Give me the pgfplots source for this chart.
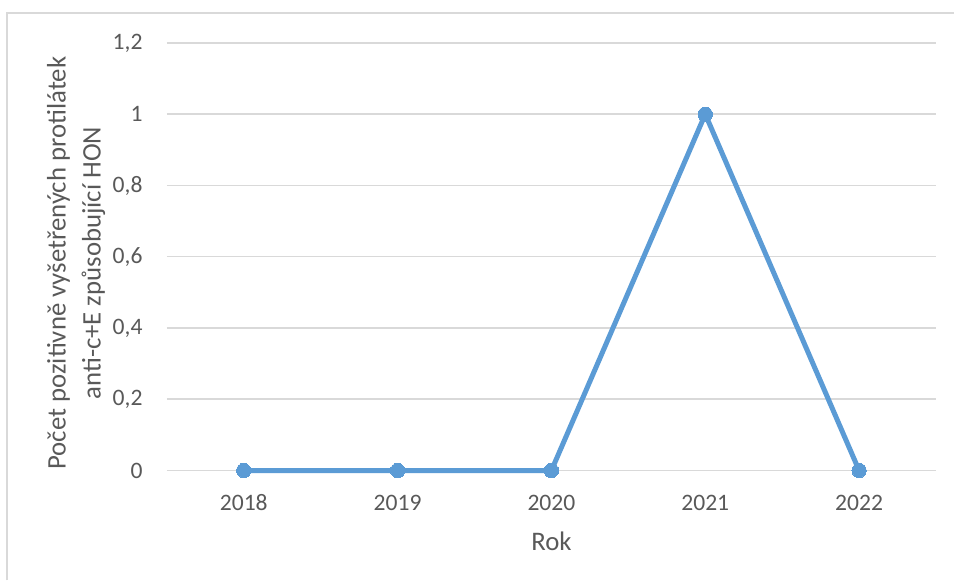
\documentclass[border=0pt]{standalone}
\usepackage{pgfplots}
\pgfplotsset{compat=1.18}
\usepackage{fontspec}
\setmainfont{Carlito}
\definecolor{linecol}{HTML}{5B9BD5}
\definecolor{gridcol}{HTML}{D9D9D9}
\definecolor{textcol}{HTML}{595959}
\begin{document}
\begin{tikzpicture}
\path (0,0) rectangle (477.5pt,290.5pt);
\draw[gridcol, line width=1pt] (3.5pt,0) -- (3.5pt,284pt) -- (477.5pt,284pt);
\begin{axis}[
  at={(83.5pt,55pt)}, anchor=south west,
  scale only axis, width=385pt, height=214pt,
  xmin=-0.5, xmax=4.5, ymin=0, ymax=1.2,
  xtick={0,1,2,3,4},
  xticklabels={2018,2019,2020,2021,2022},
  ytick={0,0.2,0.4,0.6,0.8,1,1.2},
  /pgf/number format/assume math mode=true,
  /pgf/number format/use comma,
  /pgf/number format/fixed,
  axis line style={draw=none},
  major tick length=0pt,
  ymajorgrids, grid style={gridcol, line width=0.75pt},
  tick label style={font=\fontsize{11.8pt}{14pt}\selectfont, text=textcol},
  yticklabel style={anchor=east, inner sep=0pt, xshift=-12pt},
  xticklabel style={anchor=north, inner sep=0pt, yshift=-12pt},
  xlabel={Rok},
  every axis x label/.style={at={(axis description cs:0.5,0)}, anchor=north, inner sep=0pt, yshift=-30.5pt, font=\fontsize{13.4pt}{16pt}\selectfont, text=textcol},
  ylabel={Počet pozitivně vyšetřených protilátek\\anti-c+E způsobující HON},
  every axis y label/.style={at={(axis description cs:-0.118,0.485)}, rotate=90, anchor=center, align=center, font=\fontsize{13.4pt}{17.5pt}\selectfont, text=textcol},
  clip=false,
]
\addplot[linecol, line width=2.5pt, mark=*, mark size=3.6pt, mark options={fill=linecol, draw=linecol, line width=0pt}]
  coordinates {(0,0) (1,0) (2,0) (3,1) (4,0)};
\end{axis}
\end{tikzpicture}
\end{document}
